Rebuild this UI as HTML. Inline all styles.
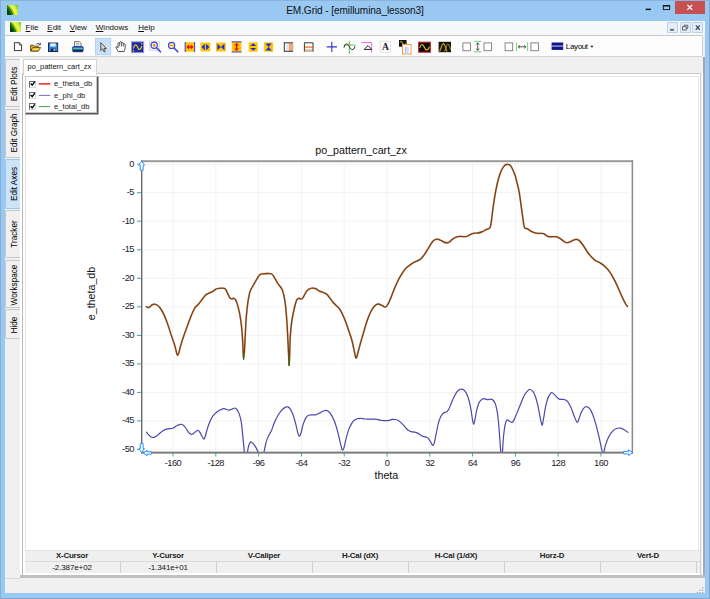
<!DOCTYPE html>
<html>
<head>
<meta charset="utf-8">
<title>EM.Grid</title>
<style>
*{box-sizing:border-box;margin:0;padding:0}
html,body{width:710px;height:599px;overflow:hidden}
body{position:relative;background:#99c9f3;font-family:"Liberation Sans",sans-serif;color:#000}
.abs{position:absolute}
#topedge{left:0;top:0;width:710px;height:599px;border:1px solid #86aed8;border-right-width:1.3px;border-bottom-width:1.6px;border-color:#8ab4de #7ea6d2 #7ea6d2 #86aed8}
#title{left:0;top:4px;width:710px;text-align:center;font-size:10.15px;line-height:14px;color:#111;letter-spacing:-0.1px}
#closeb{left:675px;top:1px;width:30px;height:13px;background:#c75050}
#client{left:5px;top:21px;width:700px;height:572px;background:#f0f0f0}
#menubar{left:5px;top:21px;width:700px;height:14px;background:#f6f7f8}
.menu{position:absolute;top:22.8px;font-size:8px;line-height:10px;color:#111;white-space:nowrap}
.menu u{text-decoration:underline}
#toolbar{left:5px;top:35px;width:698px;height:22px;background:#fdfdfd;border-top:1px solid #c8c8c8;border-bottom:1px solid #d5d5d5;border-right:1px solid #d0d0d0;border-radius:0 2px 2px 0}
.mdib{position:absolute;top:22px;width:11px;height:11px;background:#e3eefa;border:1px solid #b9cfe6;border-radius:1px}
.vtab{position:absolute;left:5px;width:15px;background:#f0f0f0;border:1px solid #c9c9c9;border-right:none;border-radius:2px 0 0 2px}
.vtab span{position:absolute;left:50%;top:50%;white-space:nowrap;font-size:8.2px;line-height:10px;transform:translate(-50%,-50%) translate(1.6px,0px) rotate(-90deg);color:#000}
#vline{left:20.2px;top:57.5px;width:1.7px;height:518px;background:#fff}
#tab{left:23px;top:59px;width:74px;height:16px;background:#fff;border:1px solid #d4d4d4;border-bottom:none;border-radius:1px 1px 0 0;font-size:7.45px;line-height:14px;padding-left:3.6px;white-space:nowrap;color:#111}
#panel{left:21.9px;top:73.4px;width:679.6px;height:502px;background:#fff;border-top:1px solid #c8c8c8;border-left:1.5px solid #b8b8b8;border-right:1.9px solid #d0d0d0}
#panelIn{left:24.6px;top:76.4px;width:674.6px;height:474px;border-top:0.7px solid #e4e4e4;border-left:0.8px solid #e4e4e4;border-right:0.8px solid #e8e8e8}
#panelR{left:701.5px;top:73.4px;width:1.5px;height:502px;background:#fff}
#panelR2{left:703px;top:57px;width:1.7px;height:521px;background:#a8a8a8}
#legend{left:24.6px;top:76.3px;width:72px;height:37px;background:#fff;border:1px solid #c8c8c8;box-shadow:1px 1px 0 0.5px #555}
.cb{position:absolute;left:3px;width:7px;height:7px;border:1px solid;border-color:#6a6a6a #d8d8d8 #d8d8d8 #6a6a6a;background:#fff}
.lt{position:absolute;left:28.5px;font-size:7.6px;line-height:9px;color:#222;white-space:nowrap}
.sw{position:absolute;left:13px;width:11.5px}
#ctitle{left:261px;top:144px;width:200px;text-align:center;font-size:10.7px;line-height:13px;color:#111}
#xtitle{left:336.4px;top:468.5px;width:100px;text-align:center;font-size:10.7px;line-height:13px;color:#111}
#ytitle{left:41.3px;top:286.5px;width:100px;text-align:center;font-size:10.7px;line-height:13px;color:#111;transform:rotate(-90deg)}
.xl{position:absolute;top:458px;width:40px;text-align:center;font-size:9.3px;line-height:11px;color:#221a2a;letter-spacing:-0.55px}
.yl{position:absolute;left:94.1px;width:40px;text-align:right;font-size:9.3px;line-height:11px;color:#221a2a;letter-spacing:-0.45px}
#sthead{left:24.6px;top:550px;width:675px;height:11px;background:#efefef;border-top:1px solid #e2e2e2}
#stvals{left:24.6px;top:561px;width:675px;height:12px;background:#f0f0f0;border-top:1px solid #dadada}
.sh{position:absolute;top:551px;width:96px;text-align:center;font-size:7.9px;line-height:10px;font-weight:bold;color:#222;letter-spacing:-0.2px}
.sv{position:absolute;top:562.5px;width:96px;text-align:center;font-size:8px;line-height:10px;color:#111;letter-spacing:-0.1px}
.sd{position:absolute;top:562px;width:1px;height:11px;background:#d0d0d0}
#shadow{left:20.2px;top:575.3px;width:684.5px;height:3.1px;background:#c0c0c0}
#statusbar{left:5px;top:578.4px;width:700px;height:15.1px;background:#f0f0f0}
</style>
</head>
<body>
<div class="abs" id="topedge"></div>
<div class="abs" id="title">EM.Grid - [emillumina_lesson3]</div>
<!-- title icon -->
<svg class="abs" style="left:6.5px;top:4.8px" width="11.2" height="10.4" viewBox="0 0 11 11" preserveAspectRatio="none"><rect width="11" height="11" fill="#74b400"/><circle cx="-16" cy="16" r="30.5" fill="#8ed024"/><circle cx="-16" cy="16" r="28.6" fill="#c4ec58"/><circle cx="-16" cy="16" r="26.4" fill="#f6f634"/><circle cx="-16" cy="16" r="24.2" fill="#a8d020"/><circle cx="-16" cy="16" r="22.8" fill="#1f7c18"/><circle cx="-16" cy="16" r="20.6" fill="#0a420a"/><circle cx="-16" cy="16" r="17.4" fill="#465816"/></svg>
<!-- caption buttons -->
<div class="abs" id="closeb"></div>
<svg class="abs" style="left:640px;top:0" width="70" height="16" viewBox="0 0 70 16">
<rect x="5.7" y="8.6" width="5.2" height="1.5" fill="#111"/>
<rect x="23.3" y="5.6" width="6.4" height="4" fill="none" stroke="#111" stroke-width="0.9"/><rect x="23" y="5.2" width="7" height="1.3" fill="#111"/>
<path d="M47.4 4.9L52.2 9.7M52.2 4.9L47.4 9.7" stroke="#fff" stroke-width="1.25"/>
</svg>

<div class="abs" id="client"></div>
<div class="abs" id="menubar"></div>
<svg class="abs" style="left:9.5px;top:21.6px" width="11.5" height="10.8" viewBox="0 0 11 11" preserveAspectRatio="none"><rect width="11" height="11" fill="#74b400"/><circle cx="-16" cy="16" r="30.5" fill="#8ed024"/><circle cx="-16" cy="16" r="28.6" fill="#c4ec58"/><circle cx="-16" cy="16" r="26.4" fill="#f6f634"/><circle cx="-16" cy="16" r="24.2" fill="#a8d020"/><circle cx="-16" cy="16" r="22.8" fill="#1f7c18"/><circle cx="-16" cy="16" r="20.6" fill="#0a420a"/><circle cx="-16" cy="16" r="17.4" fill="#465816"/></svg>
<div class="menu" style="left:25.6px"><u>F</u>ile</div>
<div class="menu" style="left:47.3px"><u>E</u>dit</div>
<div class="menu" style="left:69.7px"><u>V</u>iew</div>
<div class="menu" style="left:95.8px"><u>W</u>indows</div>
<div class="menu" style="left:138.2px"><u>H</u>elp</div>
<div class="mdib" style="left:666.5px"></div>
<div class="mdib" style="left:679.7px"></div>
<div class="mdib" style="left:692.4px"></div>
<svg class="abs" style="left:660px;top:21px" width="45" height="14" viewBox="0 0 45 14">
<rect x="10" y="8.2" width="4" height="1.3" fill="#333"/>
<rect x="22.6" y="5.8" width="3.6" height="3.2" fill="none" stroke="#445" stroke-width="0.8"/><path d="M24 5.6V4.2H27.8V7.4H26.4" fill="none" stroke="#445" stroke-width="0.8"/>
<path d="M35.8 4.4L39.8 8.8M39.8 4.4L35.8 8.8" stroke="#334" stroke-width="1.1"/>
</svg>

<div class="abs" id="toolbar"></div>
<svg class="abs" id="tbicons" style="left:0;top:34px" width="710" height="24" viewBox="0 34 710 24">
<!-- new -->
<path d="M14.4 42.7H19.3L21.6 45V50.6H14.4Z" fill="#fff" stroke="#222" stroke-width="0.9"/><path d="M19.3 42.7V45H21.6" fill="none" stroke="#222" stroke-width="0.7"/>
<!-- open -->
<path d="M30.6 51V45.2H33.4L34.2 46.2H38.2V51Z" fill="#e8b820" stroke="#443300" stroke-width="0.8"/>
<path d="M30.8 51L32.6 47.6H40.6L38.4 51Z" fill="#ffd84a" stroke="#443300" stroke-width="0.8"/>
<path d="M36.2 44.4C37.4 43.2 38.8 43.2 39.8 44.2M40.4 42.8V44.8H38.4" fill="none" stroke="#222" stroke-width="0.8"/>
<!-- save -->
<rect x="48.5" y="43" width="9.2" height="8.6" fill="#2c86e4" stroke="#1a1a3a" stroke-width="0.9"/>
<rect x="50.3" y="43.4" width="5.4" height="3.2" fill="#e8f0ff"/>
<rect x="50.8" y="48.6" width="4.4" height="2.7" fill="#16204a"/><rect x="53.6" y="48.9" width="1.2" height="1.9" fill="#dfe8ff"/>
<!-- print -->
<path d="M74.6 46.8V41.7H79.4L81 43.3V46.8Z" fill="#fff" stroke="#444" stroke-width="0.8"/>
<path d="M76 43.6H79.2M76 45H79.6" stroke="#888" stroke-width="0.7"/>
<rect x="72.6" y="46.6" width="10.6" height="5.2" rx="1" fill="#3468c8" stroke="#1a2a6a" stroke-width="0.7"/>
<rect x="73.2" y="47.9" width="9.4" height="1.4" fill="#48c8a0"/>
<rect x="73" y="49.8" width="9.8" height="1.8" fill="#10205a"/>
<!-- pointer selected -->
<rect x="95.5" y="38.3" width="15.2" height="16.6" fill="#c9e0f7" stroke="#a5cdf2" stroke-width="0.8"/>
<path d="M100.8 42.6V50.6L102.7 48.9L104.1 52L105.3 51.4L104 48.5H106.4Z" fill="#d8d8d8" stroke="#333" stroke-width="0.8" stroke-linejoin="round"/>
<!-- hand -->
<path d="M118.2 51.6C117.4 49.6 116.2 48.4 115.8 47.2C116.4 46.4 117.4 46.8 118 47.8V43.4C118.3 42.4 119.5 42.4 119.7 43.4V42.4C120 41.4 121.3 41.4 121.5 42.4V43C121.8 42.2 123 42.2 123.3 43.1V44.2C123.7 43.5 124.9 43.6 125.1 44.6C125.4 46.6 125.2 49 124 51.6Z" fill="#fff" stroke="#222" stroke-width="0.8" stroke-linejoin="round"/>
<path d="M119.7 43.4V46.4M121.5 43V46.4M123.3 44.2V46.6" stroke="#222" stroke-width="0.7"/>
<!-- sine blue -->
<rect x="131.6" y="41.8" width="12" height="10.8" fill="#1c2aa0" stroke="#8c98e8" stroke-width="1"/>
<path d="M133.4 48.6C134.4 44 136.4 43.8 137.6 47.2C138.8 50.6 140.8 50.4 141.8 45.8" fill="none" stroke="#f0d020" stroke-width="1.1"/>
<rect x="132.9" y="50.2" width="1.2" height="1.2" fill="#f0d020"/><rect x="141.2" y="43.2" width="1.2" height="1.2" fill="#f0d020"/>
<!-- zoom in -->
<rect x="149.6" y="41.2" width="9.6" height="9" fill="#f2f2f2" stroke="#c8c8c8" stroke-width="0.6"/>
<circle cx="154.2" cy="45.2" r="3.1" fill="#fff" stroke="#3548d8" stroke-width="1.2"/>
<circle cx="154.2" cy="45.2" r="1.5" fill="#f89020"/>
<path d="M156.6 47.8L160.4 51.8" stroke="#3548d8" stroke-width="1.6" stroke-linecap="round"/>
<!-- zoom out -->
<circle cx="171.6" cy="45.4" r="3.1" fill="#ffe8a0" stroke="#3548d8" stroke-width="1.2"/>
<rect x="169.9" y="44.9" width="3.4" height="1.1" fill="#f08020"/>
<path d="M174 48L177.8 51.8" stroke="#3548d8" stroke-width="1.6" stroke-linecap="round"/>
<!-- yellow 1: h expand red -->
<rect x="184.7" y="42.3" width="10.4" height="9.4" fill="#ffc400"/>
<rect x="184.7" y="42" width="1.1" height="10" fill="#5050e0"/><rect x="194" y="42" width="1.1" height="10" fill="#5050e0"/>
<path d="M186.2 47L189 44.6V46.3H190.8V44.6L193.6 47L190.8 49.4V47.7H189V49.4Z" fill="#e01010"/>
<!-- yellow 2: blue outward triangles -->
<rect x="200.5" y="42.5" width="9.8" height="9" fill="#ffc400"/>
<path d="M201.4 47L204.8 43.8V50.2ZM209.4 47L206 43.8V50.2Z" fill="#2030d8"/>
<!-- yellow 3: bowtie -->
<rect x="216" y="42.5" width="9.8" height="9" fill="#ffc400"/>
<path d="M217.4 43.8L220.9 47L217.4 50.2ZM224.4 43.8L220.9 47L224.4 50.2Z" fill="#2030d8"/>
<!-- yellow 4: v expand red -->
<rect x="231.9" y="41.6" width="9.4" height="10.6" fill="#ffc400"/>
<rect x="231.6" y="41.3" width="10" height="1.1" fill="#5050e0"/><rect x="231.6" y="51.4" width="10" height="1.1" fill="#5050e0"/>
<path d="M236.6 42.8L239 45.4H237.3V48.4H239L236.6 51L234.2 48.4H235.9V45.4H234.2Z" fill="#e01010"/>
<!-- yellow 5: blue up/down -->
<rect x="248.7" y="42.3" width="9" height="9.4" fill="#ffc400"/>
<path d="M253.2 43.2L256.2 46H250.2ZM253.2 50.8L256.2 48H250.2Z" fill="#2030d8"/>
<!-- yellow 6: hourglass -->
<rect x="264.1" y="42.3" width="9" height="9.4" fill="#ffc400"/>
<path d="M265.4 43.4H271.8L268.6 47ZM265.4 50.6H271.8L268.6 47Z" fill="#2030d8"/>
<!-- columns -->
<rect x="284.4" y="42.8" width="8.4" height="8.6" fill="#fff"/>
<rect x="288.6" y="43.2" width="4" height="8" fill="#f0a878"/><rect x="286.2" y="43.2" width="1.6" height="8" fill="#d8e4f4"/>
<path d="M284.3 42.6V51.6M284 42.8H293M284 51.3H293" stroke="#222" stroke-width="0.9" fill="none"/><path d="M292.8 43V51.4" stroke="#888" stroke-width="0.6"/>
<!-- rows -->
<rect x="304.4" y="42.8" width="8.6" height="8.6" fill="#fff"/>
<rect x="305" y="46.2" width="7.6" height="1.8" fill="#f09860"/><rect x="305" y="49.2" width="7.6" height="1.8" fill="#f4b890"/>
<path d="M304.4 51.6V42.8H313V51.6" stroke="#222" stroke-width="0.9" fill="none"/><path d="M304.4 51.4H313" stroke="#888" stroke-width="0.6"/>
<!-- plus -->
<path d="M331.8 41.8V52M326.8 46.9H337" stroke="#3434c8" stroke-width="1.1"/>
<!-- sine cursor -->
<path d="M349.4 41V53.6M343.8 45.1H355.4" stroke="#30c050" stroke-width="0.9"/>
<path d="M344 47.6C345.2 42.8 347.4 43 349.2 46.4C351 50.2 353.6 51.2 355 46.4" fill="none" stroke="#222" stroke-width="1"/>
<rect x="348.6" y="44.3" width="1.6" height="1.6" fill="#f08020"/>
<!-- triangle -->
<path d="M361.4 42.5H371.6V52.6" stroke="#f040f0" stroke-width="0.8" fill="none"/>
<path d="M364.2 49.4L368 45.6L371.8 49.4Z" fill="#fff" stroke="#222" stroke-width="1"/>
<!-- A box -->
<rect x="380.2" y="41.3" width="10.4" height="10.8" fill="#fff" stroke="#c0c0c0" stroke-width="0.7" stroke-dasharray="1.4 0.7"/>
<text x="385.4" y="50.1" font-family="Liberation Serif, serif" font-weight="bold" font-size="9.6" text-anchor="middle" fill="#181828">A</text>
<!-- black + orange -->
<rect x="399" y="40" width="7.6" height="6.7" fill="#111"/>
<path d="M399.8 42.2C400.8 41 401.8 41.6 402.6 43.2C403.4 44.8 404.6 45.2 405.8 43.8" fill="none" stroke="#f0c820" stroke-width="1"/>
<rect x="402.5" y="44.5" width="8.6" height="9.5" fill="#fff" stroke="#f89040" stroke-width="0.9"/>
<rect x="405" y="47" width="1.4" height="6" fill="#b0b8f0"/><rect x="407.2" y="47" width="1.4" height="6" fill="#c8d0f8"/>
<!-- black red border -->
<rect x="418.7" y="42.2" width="11.6" height="10" fill="#0a0a0a" stroke="#c81818" stroke-width="1"/>
<path d="M419.8 48C420.8 43.6 422.8 43.4 424.2 47C425.6 50.8 428 51 429.4 46.6" fill="none" stroke="#f0d020" stroke-width="1.1"/>
<!-- black yellow curves -->
<rect x="438.6" y="41.8" width="12.4" height="10.4" fill="#141414"/>
<path d="M439.6 51.4C441.4 48 441.8 43.6 443.4 43.6C445 43.6 445.4 48 447 51.4" fill="none" stroke="#d0a010" stroke-width="1.1"/>
<path d="M444.6 51.4C446 48 446.6 44.2 448 44.2C449.2 44.2 449.6 47 450.6 49.6" fill="none" stroke="#c8a018" stroke-width="0.9"/>
<!-- squares group 1 -->
<rect x="462.9" y="42.9" width="7.6" height="7.8" fill="#fff" stroke="#7a7a7a" stroke-width="0.9"/>
<path d="M474 41.4H481.4M474 51.8H481.4" stroke="#50d860" stroke-width="0.9"/>
<path d="M477.7 43V50.2M476.2 44.6L477.7 42.8L479.2 44.6M476.2 48.6L477.7 50.4L479.2 48.6" stroke="#333" stroke-width="0.8" fill="none"/>
<rect x="484" y="42.9" width="7.6" height="7.8" fill="#fff" stroke="#7a7a7a" stroke-width="0.9"/>
<!-- squares group 2 -->
<rect x="505.1" y="42.9" width="7.6" height="7.8" fill="#fff" stroke="#7a7a7a" stroke-width="0.9"/>
<path d="M516.6 42.6V51M527.6 42.6V51" stroke="#50d860" stroke-width="0.9"/>
<path d="M518.4 46.8H525.8M520 45.3L518.2 46.8L520 48.3M524.2 45.3L526 46.8L524.2 48.3" stroke="#333" stroke-width="0.8" fill="none"/>
<rect x="530.9" y="42.9" width="7.6" height="7.8" fill="#fff" stroke="#7a7a7a" stroke-width="0.9"/>
<!-- layout -->
<rect x="551.6" y="42.5" width="11.6" height="7.4" fill="#14148a"/><rect x="551.6" y="45.6" width="11.6" height="0.9" fill="#e8e8ff"/>
<path d="M590.2 45.8H593.6L591.9 47.8Z" fill="#222"/>

</svg>
<div class="abs" style="left:565.8px;top:42.1px;font-size:8px;line-height:10px;letter-spacing:-0.35px;color:#000">Layout</div>

<!-- left vertical tabs -->
<div class="vtab" style="top:59px;height:47.5px"><span style="top:23.5px">Edit Plots</span></div>
<div class="vtab" style="top:108.5px;height:49.5px"><span style="top:23.7px">Edit Graph</span></div>
<div class="vtab" style="top:159px;height:50px;background:#cde3f8;border-color:#9cc6ee"><span style="top:24.2px">Edit Axes</span></div>
<div class="vtab" style="top:210px;height:48px"><span style="top:22.6px">Tracker</span></div>
<div class="vtab" style="top:259.5px;height:48px"><span style="top:24.8px">Workspace</span></div>
<div class="vtab" style="top:309px;height:29.5px"><span style="top:14.9px">Hide</span></div>
<div class="abs" id="vline"></div>

<div class="abs" id="panel"></div><div class="abs" id="panelIn"></div>
<div class="abs" id="tab">po_pattern_cart_zx</div>
<div class="abs" id="panelR"></div>
<div class="abs" id="panelR2"></div>

<!-- legend -->
<div class="abs" id="legend">
<div class="cb" style="top:3.3px"></div><div class="cb" style="top:14.8px"></div><div class="cb" style="top:26px"></div>
<svg class="abs" style="left:0;top:0" width="72" height="37" viewBox="0 0 72 37">
<path d="M4.6 6.4L6.2 8.2L8.8 4.6" stroke="#000" stroke-width="1.35" fill="none"/>
<path d="M4.6 17.9L6.2 19.7L8.8 16.1" stroke="#000" stroke-width="1.35" fill="none"/>
<path d="M4.6 29.1L6.2 30.9L8.8 27.3" stroke="#000" stroke-width="1.35" fill="none"/>
<line x1="12.8" y1="6.9" x2="24.3" y2="6.9" stroke="#f01010" stroke-width="1.4"/>
<line x1="12.8" y1="18.4" x2="24.3" y2="18.4" stroke="#7a7ac8" stroke-width="1.1"/>
<line x1="12.8" y1="29.6" x2="24.3" y2="29.6" stroke="#5aaa5a" stroke-width="1.1"/>
</svg>
<div class="lt" style="top:2.2px">e_theta_db</div>
<div class="lt" style="top:13.7px">e_phi_db</div>
<div class="lt" style="top:24.9px">e_total_db</div>
</div>

<!-- chart -->
<div class="abs" id="ctitle">po_pattern_cart_zx</div>
<div class="abs" id="xtitle">theta</div>
<div class="abs" id="ytitle">e_theta_db</div>
<div class="xl" style="left:153.0px">-160</div><div class="xl" style="left:195.8px">-128</div><div class="xl" style="left:238.6px">-96</div><div class="xl" style="left:281.4px">-64</div><div class="xl" style="left:324.2px">-32</div><div class="xl" style="left:367.0px">0</div><div class="xl" style="left:409.8px">32</div><div class="xl" style="left:452.6px">64</div><div class="xl" style="left:495.4px">96</div><div class="xl" style="left:538.2px">128</div><div class="xl" style="left:581.0px">160</div>
<div class="yl" style="top:158.7px">0</div><div class="yl" style="top:187.2px">-5</div><div class="yl" style="top:215.8px">-10</div><div class="yl" style="top:244.3px">-15</div><div class="yl" style="top:272.8px">-20</div><div class="yl" style="top:301.3px">-25</div><div class="yl" style="top:329.9px">-30</div><div class="yl" style="top:358.4px">-35</div><div class="yl" style="top:386.9px">-40</div><div class="yl" style="top:415.4px">-45</div><div class="yl" style="top:443.9px">-50</div>
<svg class="abs" style="left:0;top:0" width="710" height="599" viewBox="0 0 710 599">
<defs><clipPath id="pc"><rect x="142" y="162" width="490" height="290.4"/></clipPath></defs>
<g stroke="#f2f2f2" stroke-width="1" fill="none"><line x1="173.0" y1="163" x2="173.0" y2="451" /><line x1="215.8" y1="163" x2="215.8" y2="451" /><line x1="258.6" y1="163" x2="258.6" y2="451" /><line x1="301.4" y1="163" x2="301.4" y2="451" /><line x1="344.2" y1="163" x2="344.2" y2="451" /><line x1="387.0" y1="163" x2="387.0" y2="451" /><line x1="429.8" y1="163" x2="429.8" y2="451" /><line x1="472.6" y1="163" x2="472.6" y2="451" /><line x1="515.4" y1="163" x2="515.4" y2="451" /><line x1="558.2" y1="163" x2="558.2" y2="451" /><line x1="601.0" y1="163" x2="601.0" y2="451" /><line x1="143" y1="164.2" x2="630" y2="164.2" /><line x1="143" y1="192.7" x2="630" y2="192.7" /><line x1="143" y1="221.2" x2="630" y2="221.2" /><line x1="143" y1="249.8" x2="630" y2="249.8" /><line x1="143" y1="278.3" x2="630" y2="278.3" /><line x1="143" y1="306.8" x2="630" y2="306.8" /><line x1="143" y1="335.4" x2="630" y2="335.4" /><line x1="143" y1="363.9" x2="630" y2="363.9" /><line x1="143" y1="392.4" x2="630" y2="392.4" /><line x1="143" y1="420.9" x2="630" y2="420.9" /><line x1="143" y1="449.4" x2="630" y2="449.4" /></g>
<g stroke="#38a8a0" stroke-width="1" fill="none"><line x1="173.0" y1="453" x2="173.0" y2="456.5" /><line x1="215.8" y1="453" x2="215.8" y2="456.5" /><line x1="258.6" y1="453" x2="258.6" y2="456.5" /><line x1="301.4" y1="453" x2="301.4" y2="456.5" /><line x1="344.2" y1="453" x2="344.2" y2="456.5" /><line x1="387.0" y1="453" x2="387.0" y2="456.5" /><line x1="429.8" y1="453" x2="429.8" y2="456.5" /><line x1="472.6" y1="453" x2="472.6" y2="456.5" /><line x1="515.4" y1="453" x2="515.4" y2="456.5" /><line x1="558.2" y1="453" x2="558.2" y2="456.5" /><line x1="601.0" y1="453" x2="601.0" y2="456.5" /><line x1="137" y1="164.2" x2="141" y2="164.2" /><line x1="137" y1="192.7" x2="141" y2="192.7" /><line x1="137" y1="221.2" x2="141" y2="221.2" /><line x1="137" y1="249.8" x2="141" y2="249.8" /><line x1="137" y1="278.3" x2="141" y2="278.3" /><line x1="137" y1="306.8" x2="141" y2="306.8" /><line x1="137" y1="335.4" x2="141" y2="335.4" /><line x1="137" y1="363.9" x2="141" y2="363.9" /><line x1="137" y1="392.4" x2="141" y2="392.4" /><line x1="137" y1="420.9" x2="141" y2="420.9" /><line x1="137" y1="449.4" x2="141" y2="449.4" /></g>
<g clip-path="url(#pc)" fill="none" stroke-linejoin="round" stroke-linecap="round">
<path d="M146.4 432.2C146.9 432.7 148.3 434.4 149.2 435.3C150.1 436.2 151.0 437.0 151.9 437.3C152.8 437.6 153.5 437.6 154.6 437.1C155.7 436.7 156.9 435.7 158.3 434.6C159.7 433.5 161.4 431.6 162.9 430.7C164.4 429.8 165.8 429.3 167.5 428.9C169.2 428.5 171.5 428.7 173.0 428.2C174.5 427.7 175.4 426.4 176.6 425.8C177.8 425.2 179.2 424.5 180.3 424.3C181.4 424.1 182.1 424.3 183.0 424.9C183.9 425.5 184.9 426.8 185.8 428.0C186.7 429.2 187.6 431.1 188.5 432.2C189.4 433.3 190.4 434.2 191.3 434.4C192.2 434.5 193.1 433.7 194.0 433.1C194.9 432.5 196.0 431.1 196.8 430.7C197.6 430.3 198.0 430.3 198.6 430.7C199.2 431.1 199.8 432.1 200.4 433.1C201.0 434.1 201.7 435.8 202.3 436.8C202.9 437.8 203.4 439.3 203.9 439.1C204.4 438.9 204.8 437.7 205.4 435.8C206.0 433.9 206.8 430.2 207.7 427.6C208.5 425.0 209.6 422.3 210.5 420.3C211.4 418.3 212.1 417.1 213.2 415.7C214.3 414.3 215.7 413.0 216.9 412.0C218.1 411.0 219.4 410.4 220.6 409.8C221.8 409.2 222.8 408.6 224.2 408.7C225.6 408.8 227.4 410.2 228.8 410.2C230.2 410.2 231.5 409.3 232.5 408.9C233.5 408.5 234.1 407.9 234.8 408.0C235.6 408.1 236.3 408.7 237.0 409.7C237.7 410.7 238.5 412.0 239.2 413.9C239.9 415.8 240.5 418.0 241.1 421.2C241.7 424.4 242.1 429.3 242.5 433.1C242.9 436.9 243.3 440.9 243.6 444.1C243.9 447.3 244.2 450.0 244.4 452.3C244.6 454.6 244.8 457.1 244.9 458.0M247.0 458.0C247.1 457.1 247.3 454.2 247.5 452.3C247.7 450.4 248.0 448.4 248.4 446.8C248.8 445.2 249.5 443.6 249.9 442.8C250.3 442.0 250.5 441.7 251.1 441.9C251.7 442.1 252.6 443.1 253.5 444.1C254.4 445.1 255.5 446.7 256.3 448.1C257.1 449.5 257.6 450.7 258.1 452.3C258.6 453.9 259.3 457.1 259.5 458.0M263.4 458.0C263.5 457.1 263.6 454.5 264.0 452.3C264.4 450.1 264.9 447.3 265.5 445.0C266.1 442.7 266.5 440.6 267.3 438.6C268.1 436.6 269.3 434.6 270.1 433.1C270.9 431.6 271.1 431.2 271.9 429.4C272.6 427.6 273.5 424.5 274.6 422.1C275.7 419.7 277.1 416.9 278.3 414.8C279.5 412.8 280.8 411.1 282.0 409.8C283.2 408.5 284.6 407.6 285.6 407.1C286.6 406.6 287.0 406.6 287.8 406.9C288.6 407.2 289.3 407.6 290.2 408.9C291.1 410.2 292.1 412.3 293.0 414.8C293.9 417.3 294.9 420.8 295.7 423.9C296.5 426.9 297.3 431.0 297.9 433.1C298.5 435.2 299.0 436.4 299.5 436.4C300.0 436.4 300.4 435.0 301.0 433.1C301.6 431.2 302.2 427.4 303.0 424.9C303.8 422.4 304.9 419.5 305.8 417.9C306.7 416.3 307.4 415.7 308.5 415.2C309.6 414.7 311.0 414.9 312.2 414.8C313.4 414.7 314.4 415.2 315.8 414.8C317.2 414.4 319.0 413.3 320.4 412.6C321.8 411.9 323.1 411.2 324.1 410.8C325.1 410.4 325.5 410.2 326.3 410.4C327.1 410.6 328.2 411.0 329.2 412.0C330.2 413.0 331.3 414.8 332.3 416.6C333.3 418.4 334.2 420.4 335.1 423.0C336.0 425.6 337.0 429.0 337.8 432.2C338.6 435.4 339.5 439.6 340.2 442.3C340.9 445.1 341.4 447.4 341.8 448.7C342.2 450.0 342.5 450.2 342.9 449.9C343.3 449.6 343.7 448.7 344.2 446.8C344.7 444.9 345.3 441.5 346.1 438.6C346.9 435.7 347.9 431.9 348.8 429.4C349.7 426.9 350.7 425.1 351.6 423.6C352.5 422.1 353.2 421.2 354.3 420.3C355.4 419.4 356.8 418.8 358.0 418.5C359.2 418.2 360.4 418.4 361.6 418.5C362.8 418.6 363.0 418.9 365.3 419.0C367.6 419.1 372.6 418.9 375.4 419.2C378.1 419.4 379.7 420.3 381.8 420.5C383.9 420.7 386.5 420.8 388.2 420.6C389.9 420.4 390.7 419.6 391.9 419.4C393.1 419.2 394.5 419.3 395.6 419.5C396.7 419.7 397.2 419.9 398.3 420.6C399.4 421.3 400.8 422.4 402.0 423.6C403.2 424.8 404.5 426.5 405.6 427.6C406.7 428.7 407.5 429.7 408.4 430.4C409.3 431.1 410.0 431.3 411.1 431.6C412.2 431.9 413.6 431.9 414.8 432.2C416.0 432.5 417.1 432.9 418.5 433.6C419.9 434.3 421.6 435.8 423.0 436.4C424.4 437.0 425.8 436.9 426.7 437.3C427.6 437.7 427.8 437.8 428.5 438.6C429.2 439.4 430.2 441.2 430.9 442.3C431.6 443.4 432.1 445.2 432.7 445.4C433.2 445.5 433.7 444.8 434.2 443.2C434.7 441.6 435.1 439.0 435.8 435.8C436.5 432.6 437.4 427.1 438.2 423.9C439.0 420.7 439.9 418.4 440.8 416.6C441.7 414.8 442.6 413.8 443.5 413.0C444.4 412.2 445.4 412.6 446.3 412.0C447.2 411.4 447.9 410.8 448.7 409.3C449.5 407.8 450.5 405.0 451.4 402.9C452.3 400.8 453.3 398.3 454.2 396.5C455.1 394.7 456.0 393.1 456.9 391.9C457.8 390.7 458.8 389.9 459.6 389.5C460.5 389.1 461.2 389.0 462.0 389.2C462.8 389.4 463.8 389.7 464.6 390.6C465.4 391.5 466.2 392.7 467.0 394.6C467.8 396.5 468.7 399.2 469.4 402.0C470.1 404.8 470.7 408.1 471.2 411.1C471.7 414.2 472.2 418.1 472.6 420.3C473.0 422.5 473.3 424.3 473.7 424.3C474.1 424.3 474.3 422.7 474.8 420.3C475.3 417.9 476.0 413.1 476.7 410.2C477.4 407.3 478.1 404.7 478.9 402.9C479.7 401.1 480.8 400.3 481.6 399.6C482.5 398.9 483.1 398.7 484.0 398.7C484.9 398.7 486.0 399.5 487.1 399.6C488.2 399.7 489.9 399.2 490.8 399.2C491.7 399.2 491.9 399.2 492.6 399.8C493.3 400.4 494.3 401.3 495.0 402.9C495.7 404.5 496.2 406.4 496.8 409.3C497.4 412.2 497.9 416.3 498.3 420.3C498.7 424.3 499.1 428.8 499.4 433.1C499.7 437.4 500.1 442.7 500.3 445.9C500.5 449.1 500.7 450.3 500.8 452.3C500.9 454.3 501.1 457.1 501.1 458.0M502.2 458.0C502.2 457.1 502.3 455.2 502.5 452.3C502.7 449.4 502.9 443.8 503.2 440.3C503.5 436.8 503.8 434.0 504.1 431.3C504.5 428.6 504.8 425.9 505.3 424.0C505.8 422.1 506.2 420.5 506.9 420.0C507.6 419.5 508.5 420.6 509.3 421.0C510.1 421.4 511.1 422.5 511.8 422.4C512.5 422.3 513.0 421.9 513.8 420.4C514.6 418.9 515.6 416.3 516.8 413.5C517.9 410.7 519.4 406.8 520.7 403.7C522.0 400.6 523.5 396.9 524.6 394.8C525.8 392.7 526.7 391.7 527.6 390.8C528.5 389.9 529.3 389.4 530.2 389.5C531.1 389.6 532.0 390.2 532.9 391.4C533.8 392.6 534.7 394.4 535.5 396.8C536.3 399.2 537.1 402.3 537.9 405.6C538.6 408.9 539.3 413.3 540.0 416.5C540.7 419.7 541.4 424.5 542.0 425.0C542.6 425.5 542.8 422.3 543.4 419.4C544.0 416.5 544.7 411.1 545.4 407.6C546.1 404.2 546.9 401.0 547.7 398.7C548.5 396.4 549.5 394.8 550.3 393.8C551.1 392.8 551.5 392.5 552.3 392.8C553.1 393.1 554.1 394.3 555.2 395.4C556.4 396.4 557.6 398.4 559.2 399.1C560.9 399.8 563.6 399.2 565.1 399.7C566.6 400.2 567.0 400.8 568.0 402.1C569.0 403.4 570.0 405.4 571.0 407.6C572.0 409.8 572.9 413.1 573.9 415.5C574.9 417.9 576.1 421.2 576.9 422.0C577.7 422.8 577.9 421.8 578.5 420.4C579.1 419.0 579.9 415.5 580.8 413.5C581.7 411.5 582.8 409.3 583.8 408.2C584.8 407.1 585.8 406.5 586.8 406.6C587.8 406.7 588.7 407.3 589.7 408.6C590.7 409.9 591.7 412.0 592.7 414.5C593.7 417.0 594.6 419.9 595.6 423.4C596.6 426.8 597.7 431.4 598.6 435.2C599.5 439.0 600.4 443.2 601.0 446.1C601.6 449.0 602.0 451.4 602.5 452.4C603.0 453.3 603.4 453.0 603.9 451.8C604.4 450.6 604.7 447.5 605.5 445.1C606.3 442.7 607.4 439.5 608.5 437.2C609.6 434.9 611.1 432.8 612.4 431.3C613.7 429.9 615.0 429.0 616.3 428.5C617.6 428.0 619.0 427.9 620.3 428.1C621.6 428.3 623.0 429.0 624.2 429.7C625.5 430.4 627.2 431.9 627.8 432.3" stroke="#4a48aa" stroke-width="1.2"/>
<path d="M146.4 306.6C146.7 306.8 147.6 307.5 148.2 307.5C148.8 307.5 149.5 307.1 150.1 306.7C150.7 306.3 151.2 305.3 151.9 304.9C152.7 304.5 153.7 304.1 154.6 304.2C155.5 304.3 156.5 304.7 157.4 305.3C158.3 305.9 159.0 306.5 160.1 308.0C161.2 309.5 162.6 311.8 163.8 314.4C165.0 317.0 166.3 320.2 167.5 323.6C168.7 327.0 169.9 330.9 171.1 334.6C172.3 338.3 173.9 342.6 174.8 345.6C175.7 348.7 176.2 351.3 176.6 352.9C177.0 354.5 177.1 355.3 177.5 355.3C177.9 355.3 178.2 354.8 178.8 352.9C179.4 351.0 180.3 346.6 181.2 343.7C182.0 340.8 182.8 338.6 183.9 335.5C185.0 332.4 186.4 328.8 187.6 325.4C188.8 322.0 190.2 318.0 191.3 315.4C192.4 312.8 193.2 310.9 194.0 309.5C194.8 308.1 195.0 307.6 195.8 306.7C196.6 305.8 197.5 305.2 198.6 304.0C199.7 302.8 201.1 300.7 202.3 299.2C203.5 297.7 204.7 295.9 205.9 294.8C207.1 293.7 208.4 293.4 209.6 292.8C210.8 292.2 212.2 291.8 213.2 291.2C214.2 290.6 214.5 289.9 215.4 289.4C216.3 288.9 217.2 288.6 218.7 288.4C220.2 288.2 223.0 288.0 224.2 288.3C225.4 288.6 225.5 289.2 226.1 290.1C226.7 291.0 227.3 292.6 227.9 293.9C228.5 295.1 229.1 296.8 229.7 297.6C230.3 298.4 230.9 298.8 231.6 298.9C232.3 299.0 233.0 298.1 233.7 298.3C234.4 298.5 235.0 298.8 235.6 299.8C236.2 300.8 236.7 302.0 237.4 304.4C238.1 306.8 239.1 310.6 239.8 314.4C240.5 318.2 241.2 323.3 241.6 327.3C242.0 331.3 242.2 334.2 242.5 338.2C242.8 342.2 242.9 347.6 243.1 351.1C243.3 354.6 243.4 359.3 243.6 359.3C243.8 359.3 244.1 355.2 244.4 351.1C244.7 347.0 245.0 340.1 245.3 334.6C245.6 329.1 245.8 323.3 246.2 318.1C246.6 312.9 247.2 307.5 247.7 303.5C248.2 299.5 248.8 296.6 249.3 294.3C249.8 292.0 250.0 291.5 250.8 289.7C251.7 287.9 253.2 285.4 254.4 283.3C255.6 281.2 257.2 278.3 258.1 276.9C259.0 275.5 259.1 275.2 259.9 274.7C260.7 274.2 261.0 274.0 262.7 273.8C264.4 273.6 268.4 273.4 270.1 273.6C271.8 273.8 271.9 274.1 272.8 275.1C273.7 276.1 274.7 278.1 275.6 279.6C276.5 281.1 277.2 282.6 278.3 284.2C279.4 285.8 281.1 287.4 282.0 289.2C282.9 291.0 283.2 292.4 283.8 295.2C284.4 298.0 285.1 301.8 285.6 306.2C286.1 310.6 286.5 316.5 286.9 321.8C287.3 327.1 287.5 332.7 287.8 338.2C288.1 343.7 288.4 350.2 288.6 354.7C288.8 359.2 288.9 365.6 289.1 365.3C289.3 365.0 289.5 358.0 289.7 352.9C289.9 347.8 290.0 340.1 290.4 334.6C290.8 329.1 291.3 324.3 292.0 319.9C292.7 315.5 293.6 311.3 294.4 308.0C295.2 304.7 295.9 301.9 296.6 300.3C297.3 298.7 297.7 298.5 298.5 298.3C299.3 298.1 300.4 299.2 301.2 299.1C301.9 299.0 302.2 298.7 303.0 297.6C303.8 296.5 304.9 293.9 305.8 292.5C306.7 291.1 307.4 290.1 308.5 289.4C309.6 288.7 311.0 288.2 312.2 288.1C313.4 288.0 314.6 288.1 315.8 288.6C317.0 289.1 318.3 290.6 319.5 291.2C320.7 291.8 322.0 292.0 323.2 292.5C324.4 293.0 325.6 293.2 326.8 294.3C328.0 295.4 329.4 297.5 330.5 298.9C331.6 300.3 332.1 301.3 333.2 302.5C334.3 303.7 335.7 305.0 336.9 306.2C338.1 307.4 339.0 307.9 340.2 309.9C341.4 311.9 342.9 315.1 344.2 318.1C345.5 321.2 346.7 324.7 347.9 328.2C349.1 331.7 350.5 335.4 351.6 339.2C352.7 343.0 353.6 348.0 354.3 351.1C355.0 354.2 355.4 357.4 355.9 358.0C356.4 358.6 356.8 356.8 357.4 354.7C358.0 352.6 358.8 349.3 359.8 345.6C360.8 341.9 362.3 336.8 363.5 332.7C364.7 328.6 365.9 324.3 367.1 320.8C368.3 317.3 369.6 314.1 370.8 311.7C372.0 309.3 373.2 307.5 374.4 306.2C375.6 304.9 376.9 304.1 378.1 304.0C379.3 303.9 380.6 304.8 381.8 305.3C383.0 305.8 384.3 307.4 385.4 307.1C386.5 306.9 387.3 305.4 388.2 303.8C389.1 302.2 389.9 300.0 391.0 297.4C392.1 294.8 393.4 291.1 394.6 288.2C395.8 285.3 397.1 282.4 398.3 280.0C399.5 277.6 400.8 275.5 402.0 273.6C403.2 271.7 404.4 270.0 405.6 268.6C406.8 267.2 408.1 266.4 409.3 265.4C410.5 264.4 411.6 263.6 413.0 262.8C414.4 262.0 416.1 261.5 417.5 260.8C418.9 260.1 420.0 259.6 421.2 258.4C422.4 257.2 423.7 255.5 424.9 253.8C426.1 252.1 427.4 249.7 428.5 248.0C429.6 246.3 430.4 244.7 431.3 243.4C432.2 242.1 432.9 241.0 434.0 240.3C435.1 239.6 436.5 239.1 437.7 239.2C438.9 239.2 440.1 240.0 441.3 240.6C442.5 241.2 443.8 242.2 445.0 242.5C446.2 242.8 447.5 243.0 448.7 242.5C449.9 242.0 450.8 240.4 452.3 239.4C453.8 238.4 455.5 237.1 457.8 236.6C460.1 236.1 464.1 236.9 466.1 236.6C468.1 236.3 468.5 235.4 469.7 234.8C470.9 234.2 472.2 233.6 473.4 233.3C474.6 233.0 475.6 233.3 477.0 233.1C478.4 232.9 480.1 232.6 481.6 232.0C483.1 231.4 484.8 230.3 486.2 229.6C487.6 228.9 489.1 228.9 489.9 227.8C490.7 226.7 490.7 225.6 491.1 223.2C491.5 220.8 491.9 217.0 492.3 213.6C492.8 210.2 493.2 206.3 493.8 202.6C494.4 198.9 494.9 195.1 495.6 191.6C496.3 188.1 497.0 184.6 497.8 181.5C498.6 178.4 499.3 175.6 500.2 173.3C501.1 171.0 502.1 168.9 503.0 167.5C503.9 166.1 504.6 165.4 505.3 164.9C506.0 164.4 506.6 164.3 507.4 164.3C508.2 164.3 509.1 164.4 509.9 165.1C510.7 165.8 511.3 166.6 512.1 168.2C512.9 169.8 514.0 172.3 514.9 174.8C515.8 177.3 516.5 180.6 517.2 183.4C517.9 186.2 518.5 188.4 519.1 191.6C519.7 194.8 520.2 198.9 520.7 202.6C521.2 206.3 521.7 210.2 522.2 213.6C522.7 216.9 523.1 220.3 523.5 222.7C523.9 225.1 524.0 226.9 524.7 227.9C525.4 228.9 526.6 228.2 527.7 228.8C528.8 229.4 529.9 230.7 531.3 231.4C532.7 232.1 534.1 232.9 535.9 233.2C537.7 233.5 540.8 233.2 542.3 233.4C543.8 233.6 544.1 234.1 545.1 234.6C546.1 235.1 546.6 236.3 548.4 236.7C550.2 237.0 554.1 236.3 556.1 236.7C558.1 237.1 559.4 238.2 560.6 238.9C561.8 239.6 562.4 240.3 563.2 240.9C564.0 241.5 564.7 242.2 565.6 242.4C566.5 242.7 567.5 242.7 568.7 242.4C569.9 242.1 571.5 241.0 572.7 240.5C573.9 240.0 574.9 239.3 575.9 239.3C576.9 239.3 578.0 239.6 579.0 240.4C580.0 241.2 581.1 242.6 582.2 244.0C583.3 245.4 584.4 247.2 585.4 248.8C586.4 250.4 587.5 252.1 588.5 253.5C589.5 254.9 590.5 256.0 591.7 257.2C592.9 258.4 594.2 259.7 595.7 260.7C597.2 261.7 599.0 262.2 600.4 263.1C601.8 264.0 603.1 264.7 604.4 265.9C605.7 267.1 607.1 268.5 608.4 270.2C609.7 271.9 611.1 274.1 612.3 276.1C613.5 278.1 614.4 279.9 615.5 282.1C616.6 284.3 617.6 286.8 618.7 289.2C619.8 291.6 620.9 294.1 621.9 296.4C622.9 298.6 624.1 301.0 625.0 302.7C625.9 304.4 627.0 305.8 627.4 306.4" stroke="#f04040" stroke-width="1.9" opacity="0.4"/>
<path d="M146.4 306.6C146.7 306.8 147.6 307.5 148.2 307.5C148.8 307.5 149.5 307.1 150.1 306.7C150.7 306.3 151.2 305.3 151.9 304.9C152.7 304.5 153.7 304.1 154.6 304.2C155.5 304.3 156.5 304.7 157.4 305.3C158.3 305.9 159.0 306.5 160.1 308.0C161.2 309.5 162.6 311.8 163.8 314.4C165.0 317.0 166.3 320.2 167.5 323.6C168.7 327.0 169.9 330.9 171.1 334.6C172.3 338.3 173.9 342.6 174.8 345.6C175.7 348.7 176.2 351.3 176.6 352.9C177.0 354.5 177.1 355.3 177.5 355.3C177.9 355.3 178.2 354.8 178.8 352.9C179.4 351.0 180.3 346.6 181.2 343.7C182.0 340.8 182.8 338.6 183.9 335.5C185.0 332.4 186.4 328.8 187.6 325.4C188.8 322.0 190.2 318.0 191.3 315.4C192.4 312.8 193.2 310.9 194.0 309.5C194.8 308.1 195.0 307.6 195.8 306.7C196.6 305.8 197.5 305.2 198.6 304.0C199.7 302.8 201.1 300.7 202.3 299.2C203.5 297.7 204.7 295.9 205.9 294.8C207.1 293.7 208.4 293.4 209.6 292.8C210.8 292.2 212.2 291.8 213.2 291.2C214.2 290.6 214.5 289.9 215.4 289.4C216.3 288.9 217.2 288.6 218.7 288.4C220.2 288.2 223.0 288.0 224.2 288.3C225.4 288.6 225.5 289.2 226.1 290.1C226.7 291.0 227.3 292.6 227.9 293.9C228.5 295.1 229.1 296.8 229.7 297.6C230.3 298.4 230.9 298.8 231.6 298.9C232.3 299.0 233.0 298.1 233.7 298.3C234.4 298.5 235.0 298.8 235.6 299.8C236.2 300.8 236.7 302.0 237.4 304.4C238.1 306.8 239.1 310.6 239.8 314.4C240.5 318.2 241.2 323.3 241.6 327.3C242.0 331.3 242.2 334.2 242.5 338.2C242.8 342.2 242.9 347.6 243.1 351.1C243.3 354.6 243.4 359.3 243.6 359.3C243.8 359.3 244.1 355.2 244.4 351.1C244.7 347.0 245.0 340.1 245.3 334.6C245.6 329.1 245.8 323.3 246.2 318.1C246.6 312.9 247.2 307.5 247.7 303.5C248.2 299.5 248.8 296.6 249.3 294.3C249.8 292.0 250.0 291.5 250.8 289.7C251.7 287.9 253.2 285.4 254.4 283.3C255.6 281.2 257.2 278.3 258.1 276.9C259.0 275.5 259.1 275.2 259.9 274.7C260.7 274.2 261.0 274.0 262.7 273.8C264.4 273.6 268.4 273.4 270.1 273.6C271.8 273.8 271.9 274.1 272.8 275.1C273.7 276.1 274.7 278.1 275.6 279.6C276.5 281.1 277.2 282.6 278.3 284.2C279.4 285.8 281.1 287.4 282.0 289.2C282.9 291.0 283.2 292.4 283.8 295.2C284.4 298.0 285.1 301.8 285.6 306.2C286.1 310.6 286.5 316.5 286.9 321.8C287.3 327.1 287.5 332.7 287.8 338.2C288.1 343.7 288.4 350.2 288.6 354.7C288.8 359.2 288.9 365.6 289.1 365.3C289.3 365.0 289.5 358.0 289.7 352.9C289.9 347.8 290.0 340.1 290.4 334.6C290.8 329.1 291.3 324.3 292.0 319.9C292.7 315.5 293.6 311.3 294.4 308.0C295.2 304.7 295.9 301.9 296.6 300.3C297.3 298.7 297.7 298.5 298.5 298.3C299.3 298.1 300.4 299.2 301.2 299.1C301.9 299.0 302.2 298.7 303.0 297.6C303.8 296.5 304.9 293.9 305.8 292.5C306.7 291.1 307.4 290.1 308.5 289.4C309.6 288.7 311.0 288.2 312.2 288.1C313.4 288.0 314.6 288.1 315.8 288.6C317.0 289.1 318.3 290.6 319.5 291.2C320.7 291.8 322.0 292.0 323.2 292.5C324.4 293.0 325.6 293.2 326.8 294.3C328.0 295.4 329.4 297.5 330.5 298.9C331.6 300.3 332.1 301.3 333.2 302.5C334.3 303.7 335.7 305.0 336.9 306.2C338.1 307.4 339.0 307.9 340.2 309.9C341.4 311.9 342.9 315.1 344.2 318.1C345.5 321.2 346.7 324.7 347.9 328.2C349.1 331.7 350.5 335.4 351.6 339.2C352.7 343.0 353.6 348.0 354.3 351.1C355.0 354.2 355.4 357.4 355.9 358.0C356.4 358.6 356.8 356.8 357.4 354.7C358.0 352.6 358.8 349.3 359.8 345.6C360.8 341.9 362.3 336.8 363.5 332.7C364.7 328.6 365.9 324.3 367.1 320.8C368.3 317.3 369.6 314.1 370.8 311.7C372.0 309.3 373.2 307.5 374.4 306.2C375.6 304.9 376.9 304.1 378.1 304.0C379.3 303.9 380.6 304.8 381.8 305.3C383.0 305.8 384.3 307.4 385.4 307.1C386.5 306.9 387.3 305.4 388.2 303.8C389.1 302.2 389.9 300.0 391.0 297.4C392.1 294.8 393.4 291.1 394.6 288.2C395.8 285.3 397.1 282.4 398.3 280.0C399.5 277.6 400.8 275.5 402.0 273.6C403.2 271.7 404.4 270.0 405.6 268.6C406.8 267.2 408.1 266.4 409.3 265.4C410.5 264.4 411.6 263.6 413.0 262.8C414.4 262.0 416.1 261.5 417.5 260.8C418.9 260.1 420.0 259.6 421.2 258.4C422.4 257.2 423.7 255.5 424.9 253.8C426.1 252.1 427.4 249.7 428.5 248.0C429.6 246.3 430.4 244.7 431.3 243.4C432.2 242.1 432.9 241.0 434.0 240.3C435.1 239.6 436.5 239.1 437.7 239.2C438.9 239.2 440.1 240.0 441.3 240.6C442.5 241.2 443.8 242.2 445.0 242.5C446.2 242.8 447.5 243.0 448.7 242.5C449.9 242.0 450.8 240.4 452.3 239.4C453.8 238.4 455.5 237.1 457.8 236.6C460.1 236.1 464.1 236.9 466.1 236.6C468.1 236.3 468.5 235.4 469.7 234.8C470.9 234.2 472.2 233.6 473.4 233.3C474.6 233.0 475.6 233.3 477.0 233.1C478.4 232.9 480.1 232.6 481.6 232.0C483.1 231.4 484.8 230.3 486.2 229.6C487.6 228.9 489.1 228.9 489.9 227.8C490.7 226.7 490.7 225.6 491.1 223.2C491.5 220.8 491.9 217.0 492.3 213.6C492.8 210.2 493.2 206.3 493.8 202.6C494.4 198.9 494.9 195.1 495.6 191.6C496.3 188.1 497.0 184.6 497.8 181.5C498.6 178.4 499.3 175.6 500.2 173.3C501.1 171.0 502.1 168.9 503.0 167.5C503.9 166.1 504.6 165.4 505.3 164.9C506.0 164.4 506.6 164.3 507.4 164.3C508.2 164.3 509.1 164.4 509.9 165.1C510.7 165.8 511.3 166.6 512.1 168.2C512.9 169.8 514.0 172.3 514.9 174.8C515.8 177.3 516.5 180.6 517.2 183.4C517.9 186.2 518.5 188.4 519.1 191.6C519.7 194.8 520.2 198.9 520.7 202.6C521.2 206.3 521.7 210.2 522.2 213.6C522.7 216.9 523.1 220.3 523.5 222.7C523.9 225.1 524.0 226.9 524.7 227.9C525.4 228.9 526.6 228.2 527.7 228.8C528.8 229.4 529.9 230.7 531.3 231.4C532.7 232.1 534.1 232.9 535.9 233.2C537.7 233.5 540.8 233.2 542.3 233.4C543.8 233.6 544.1 234.1 545.1 234.6C546.1 235.1 546.6 236.3 548.4 236.7C550.2 237.0 554.1 236.3 556.1 236.7C558.1 237.1 559.4 238.2 560.6 238.9C561.8 239.6 562.4 240.3 563.2 240.9C564.0 241.5 564.7 242.2 565.6 242.4C566.5 242.7 567.5 242.7 568.7 242.4C569.9 242.1 571.5 241.0 572.7 240.5C573.9 240.0 574.9 239.3 575.9 239.3C576.9 239.3 578.0 239.6 579.0 240.4C580.0 241.2 581.1 242.6 582.2 244.0C583.3 245.4 584.4 247.2 585.4 248.8C586.4 250.4 587.5 252.1 588.5 253.5C589.5 254.9 590.5 256.0 591.7 257.2C592.9 258.4 594.2 259.7 595.7 260.7C597.2 261.7 599.0 262.2 600.4 263.1C601.8 264.0 603.1 264.7 604.4 265.9C605.7 267.1 607.1 268.5 608.4 270.2C609.7 271.9 611.1 274.1 612.3 276.1C613.5 278.1 614.4 279.9 615.5 282.1C616.6 284.3 617.6 286.8 618.7 289.2C619.8 291.6 620.9 294.1 621.9 296.4C622.9 298.6 624.1 301.0 625.0 302.7C625.9 304.4 627.0 305.8 627.4 306.4" stroke="#74460c" stroke-width="1.35"/>
<path d="M243.5 353L243.6 359.3M289 358L289.1 365.3" stroke="#1a7a10" stroke-width="1"/>
</g>
<!-- frame -->
<rect x="141.5" y="160.2" width="491.6" height="2" fill="#9a9a9a"/>
<rect x="141.5" y="451.6" width="491.6" height="2" fill="#7a7a7a"/>
<rect x="141" y="160.5" width="1.4" height="293" fill="#6a6a6a"/>
<rect x="631.6" y="160.5" width="1.5" height="293" fill="#8a8a8a"/>
<!-- handles -->
<g fill="#fff" stroke="#2a90ff" stroke-width="1">
<path d="M141.7 161.3L144.6 165.2H143.2V170.3H140.2V165.2H138.8Z"/>
<path d="M141.7 452.6L144.4 448.4H143.1V443.6H140.3V448.4H139Z"/>
<path d="M143.3 453L147 450.3V451.8H151.4V454.2H147V455.7Z"/>
<path d="M632.6 452.6L628.6 449.8V451.4H623.6V453.9H628.6V455.5Z"/>
</g>
</svg>

<!-- status grid -->
<div class="abs" id="sthead"></div>
<div class="abs" id="stvals"></div>
<div class="sh" style="left:24px">X-Cursor</div>
<div class="sh" style="left:120px">Y-Cursor</div>
<div class="sh" style="left:216px">V-Caliper</div>
<div class="sh" style="left:312px">H-Cal (dX)</div>
<div class="sh" style="left:408px">H-Cal (1/dX)</div>
<div class="sh" style="left:504px">Horz-D</div>
<div class="sh" style="left:600px">Vert-D</div>
<div class="sv" style="left:24px">-2.387e+02</div>
<div class="sv" style="left:120px">-1.341e+01</div>
<div class="sd" style="left:120px"></div><div class="sd" style="left:216px"></div><div class="sd" style="left:312px"></div><div class="sd" style="left:408px"></div><div class="sd" style="left:504px"></div><div class="sd" style="left:600px"></div><div class="sd" style="left:696px"></div>
<div class="abs" id="shadow"></div>
<div class="abs" id="statusbar"></div><div class="abs" style="left:5.4px;top:577.8px;width:14.8px;height:0.8px;background:#dadada"></div>
<svg class="abs" style="left:695.3px;top:585.6px" width="10" height="10" viewBox="0 0 10 10" fill="#b0b0b0"><rect x="7" y="1" width="1.4" height="1.4"/><rect x="4.5" y="3.5" width="1.4" height="1.4"/><rect x="7" y="3.5" width="1.4" height="1.4"/><rect x="2" y="6" width="1.4" height="1.4"/><rect x="4.5" y="6" width="1.4" height="1.4"/><rect x="7" y="6" width="1.4" height="1.4"/></svg>
</body>
</html>
